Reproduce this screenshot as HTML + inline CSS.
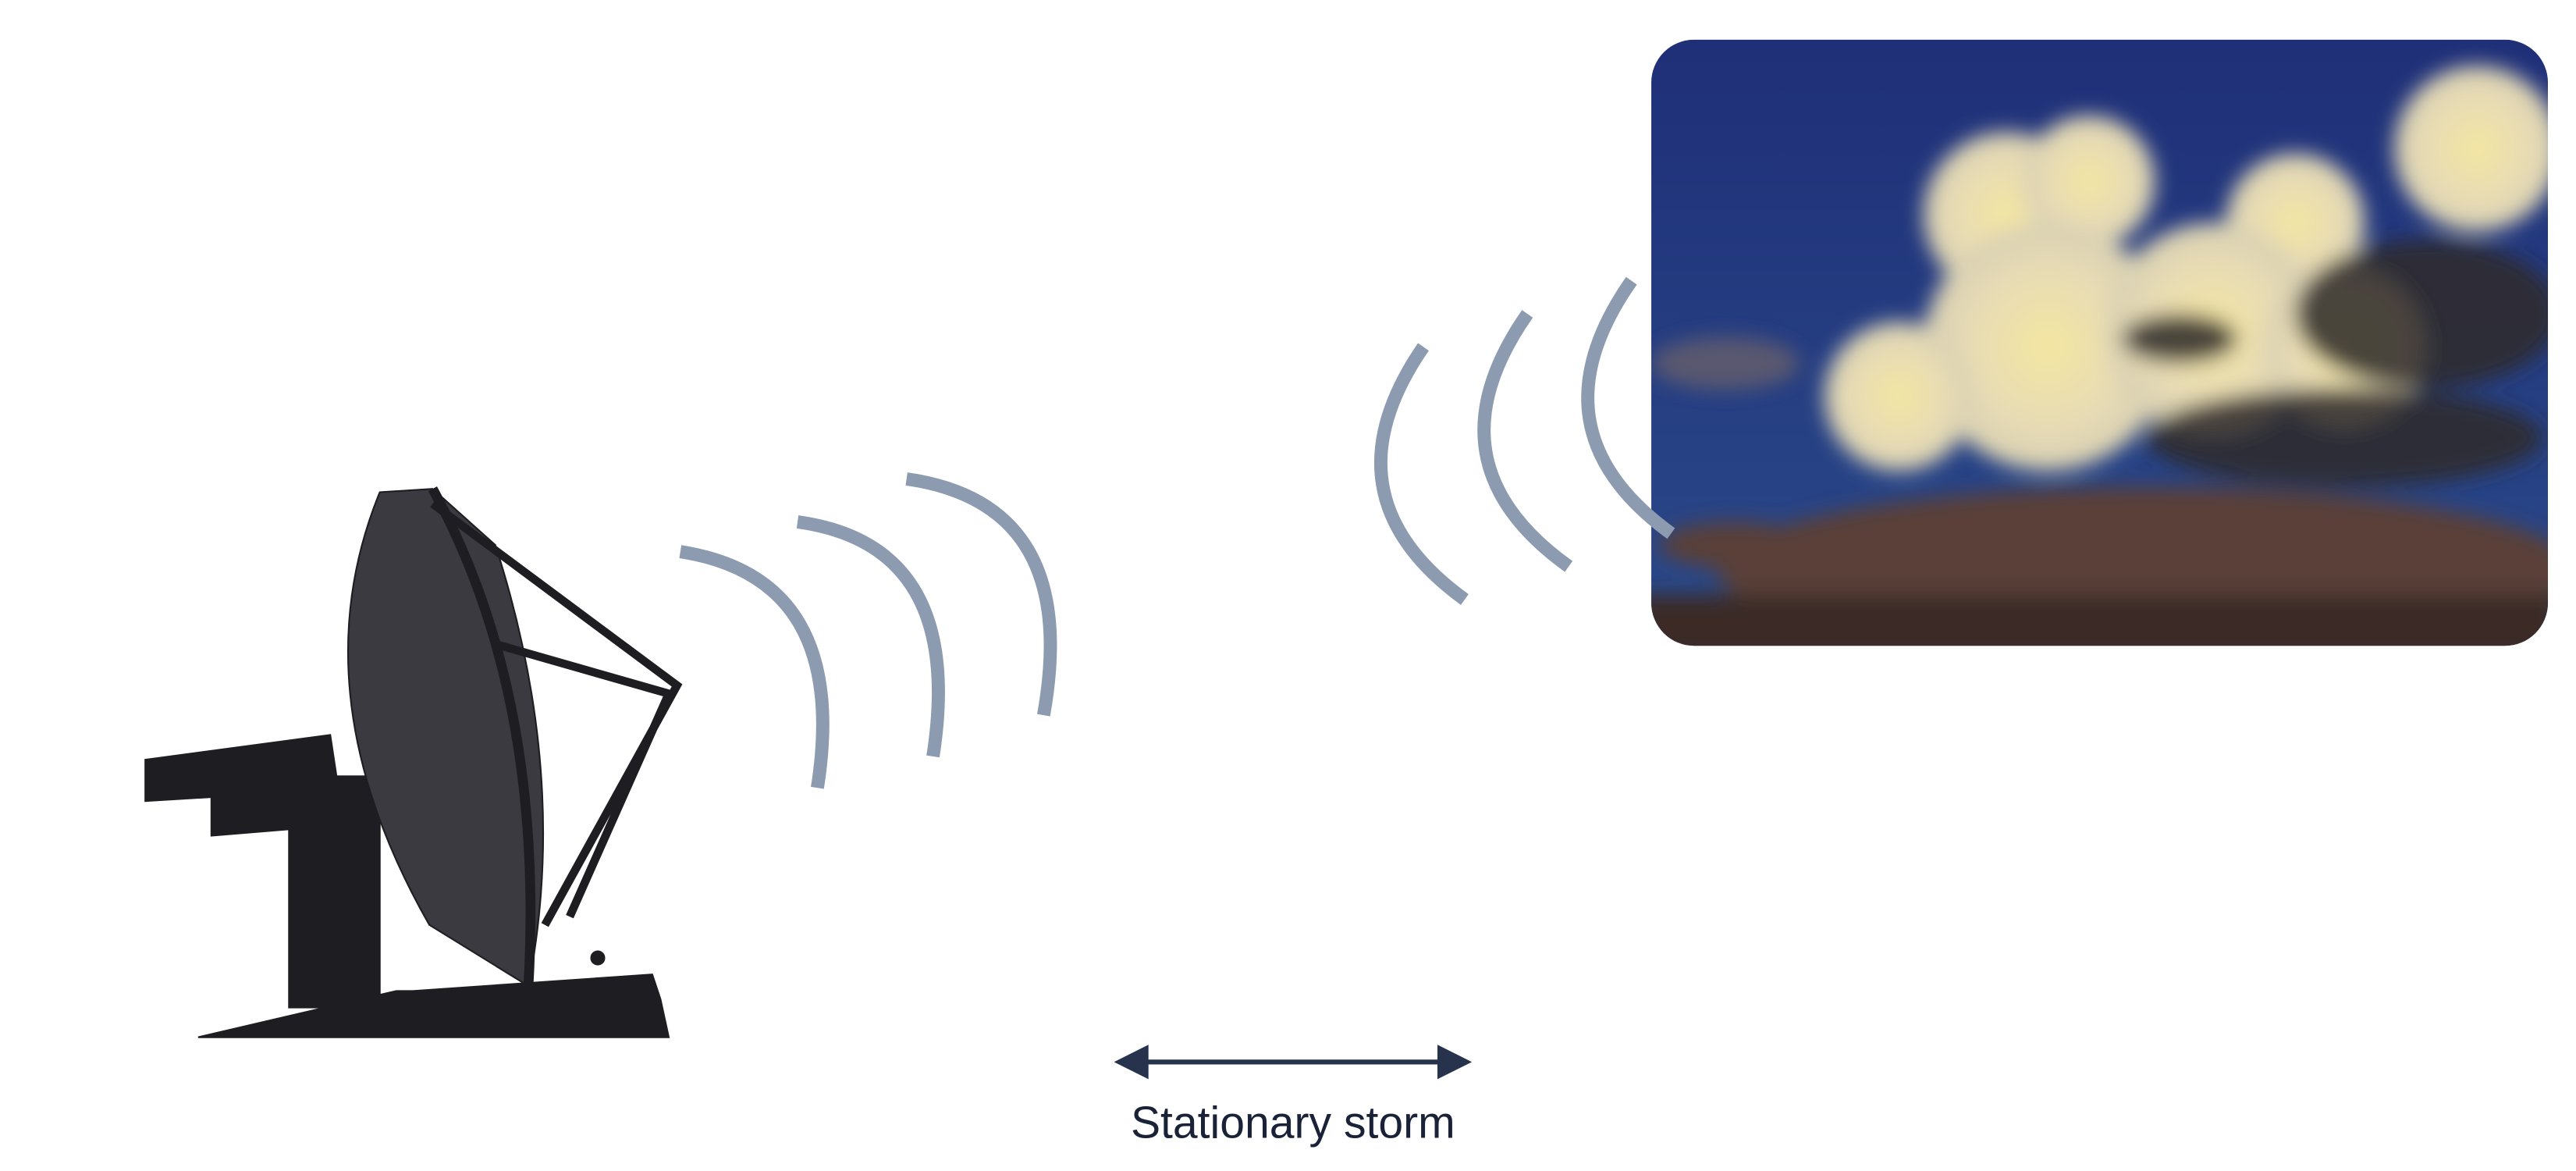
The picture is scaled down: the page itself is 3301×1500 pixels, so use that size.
<!DOCTYPE html>
<html><head><meta charset="utf-8"><style>
html,body{margin:0;padding:0;background:#fff;width:3301px;height:1500px;overflow:hidden}
svg{display:block}
</style></head><body>
<svg width="3301" height="1500" viewBox="0 0 1560 709" preserveAspectRatio="none" xmlns="http://www.w3.org/2000/svg">
<defs>
<clipPath id="c"><rect x="1000" y="24" width="543" height="367" rx="26"/></clipPath>
<radialGradient id="cl" cx="0.5" cy="0.5" r="0.5">
<stop offset="0" stop-color="#f4e6a0"/><stop offset="0.6" stop-color="#e8dcb4"/><stop offset="1" stop-color="#d8d0b4"/></radialGradient>
<linearGradient id="sky" x1="0" y1="0" x2="0" y2="1"><stop offset="0" stop-color="#1f2f78"/><stop offset="1" stop-color="#2a4a8a"/></linearGradient>
<filter id="b"><feGaussianBlur stdDeviation="6"/></filter>
</defs>
<g clip-path="url(#c)">
<rect x="1000" y="24" width="543" height="367" fill="url(#sky)"/>
<g filter="url(#b)">
<g fill="url(#cl)">
<circle cx="1215" cy="130" r="50"/><circle cx="1265" cy="110" r="40"/><circle cx="1390" cy="135" r="42"/>
<circle cx="1500" cy="90" r="50"/><circle cx="1240" cy="210" r="75"/><circle cx="1340" cy="200" r="65"/>
<circle cx="1150" cy="240" r="45"/><circle cx="1420" cy="210" r="50"/>
</g>
<g fill="#2e2a28" opacity="0.85">
<ellipse cx="1470" cy="190" rx="80" ry="45"/><ellipse cx="1420" cy="265" rx="120" ry="30"/>
<ellipse cx="1320" cy="205" rx="35" ry="15"/>
</g>
<g fill="#5a4038">
<ellipse cx="1300" cy="345" rx="260" ry="50"/><ellipse cx="1050" cy="330" rx="45" ry="14"/>
<ellipse cx="1045" cy="220" rx="45" ry="16" fill="#5a5870"/>
</g>
<rect x="990" y="360" width="560" height="40" fill="#3a2a25"/>
</g>
</g>
<g fill="none" stroke="#8c9bb0" stroke-width="8">
<path d="M412 334 Q515 350 495 477"/>
<path d="M483 316 Q585 330 565 458"/>
<path d="M549 290 Q655 305 632 433"/>
<path d="M862 210 Q800 300 887 363"/>
<path d="M925 190 Q862 280 950 343"/>
<path d="M988 170 Q925 260 1012 323"/>
</g>
<g fill="#1e1e22" stroke="#1e1e22">
<path d="M120 628 L405 628 L400 605 L395 590 L250 600 L240 600 Z"/>
<rect x="175" y="470" width="55" height="140"/>
<polygon points="88,460 200,445 205,478 88,485"/>
<polygon points="128,482 200,472 200,500 128,506"/>
<path d="M230 298 Q180 420 260 560 L320 597 Q345 470 300 330 L262 296 Z" fill="#3a3a40"/>
<path d="M262 296 Q330 420 320 597" fill="none" stroke-width="6"/>
<path d="M262 305 L410 415 L330 560 M300 390 L405 420 M405 420 L345 555" fill="none" stroke-width="5"/>
<circle cx="362" cy="580" r="4"/>
</g>
<g stroke="#27334d" stroke-width="3" fill="#27334d">
<line x1="690" y1="643" x2="876" y2="643"/>
<polygon points="678,643 694,635 694,651"/>
<polygon points="888,643 872,635 872,651"/>
</g>
<text x="783" y="689" font-family="Liberation Sans, sans-serif" font-size="27" text-anchor="middle" fill="#1a2238">Stationary storm</text>
</svg>
</body></html>
